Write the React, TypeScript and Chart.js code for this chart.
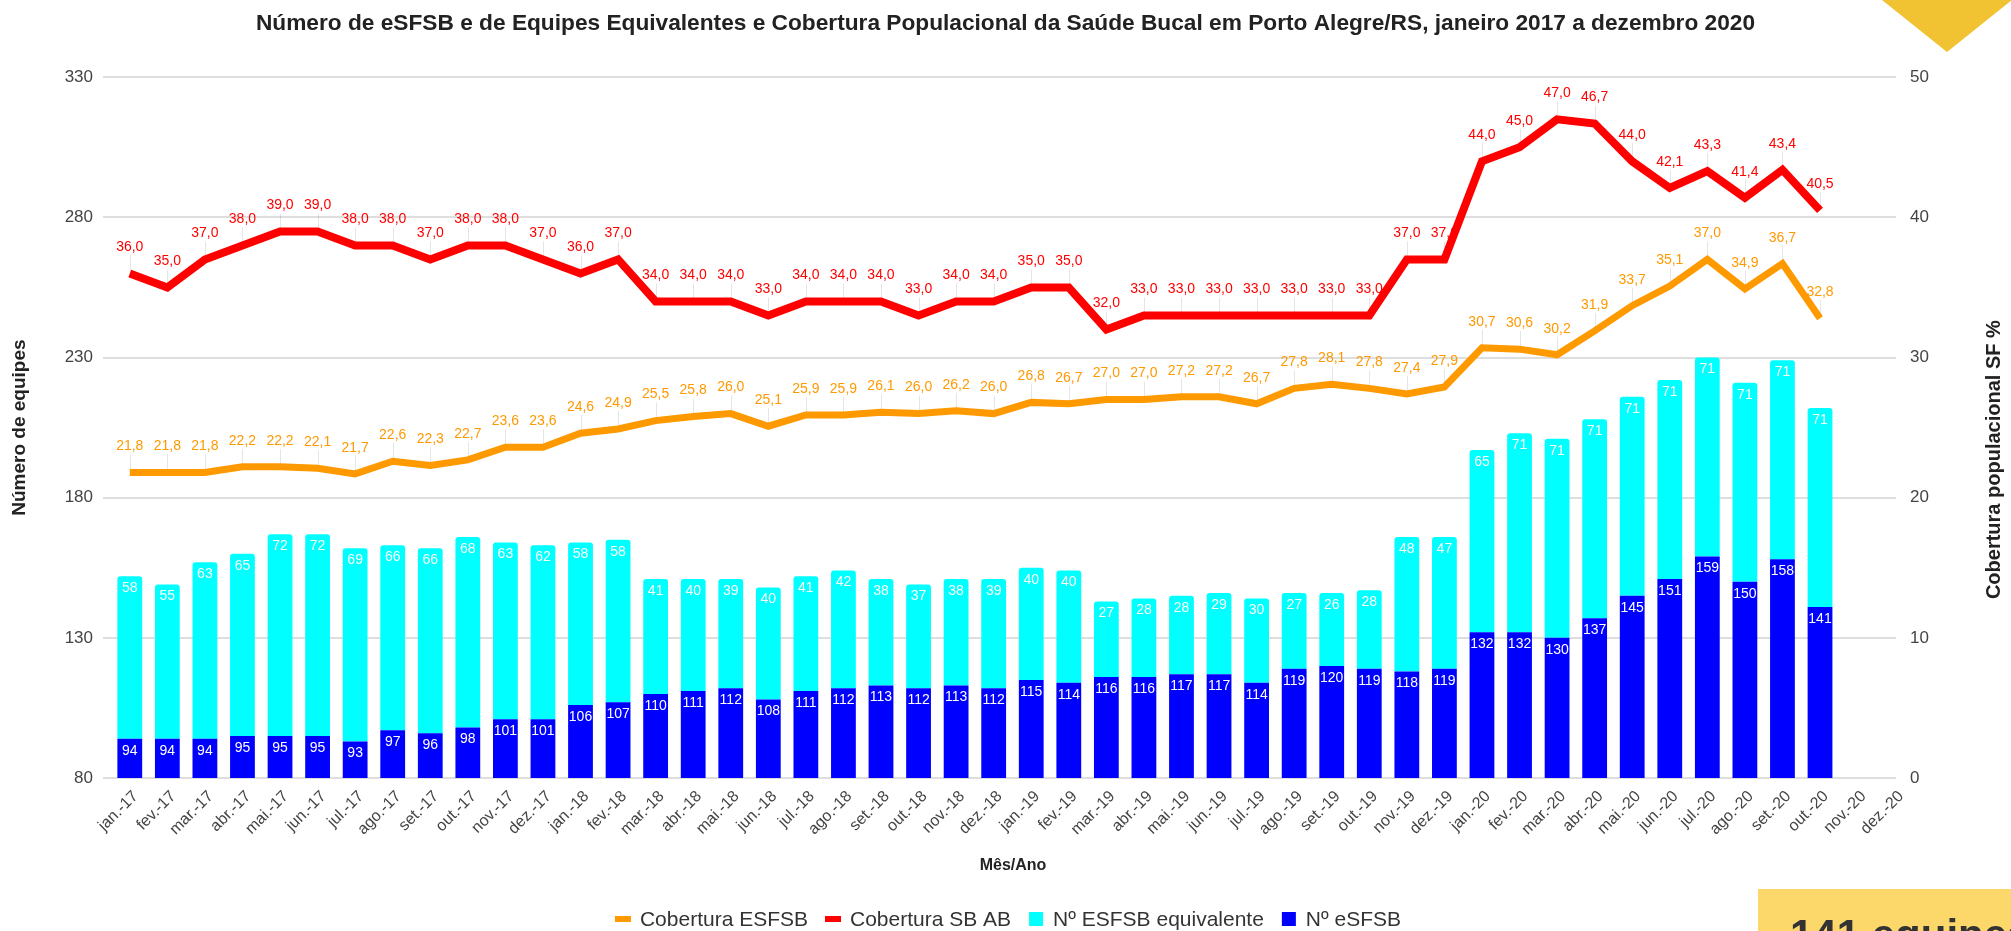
import React, { useEffect, useRef } from 'react';
import { Chart, registerables } from 'chart.js';

Chart.register(...registerables);

const TITLE =
  'Número de eSFSB e de Equipes Equivalentes e Cobertura Populacional da Saúde Bucal em Porto Alegre/RS, janeiro 2017 a dezembro 2020';

const months = [
  'jan.-17', 'fev.-17', 'mar.-17', 'abr.-17', 'mai.-17', 'jun.-17', 'jul.-17', 'ago.-17', 'set.-17', 'out.-17', 'nov.-17', 'dez.-17',
  'jan.-18', 'fev.-18', 'mar.-18', 'abr.-18', 'mai.-18', 'jun.-18', 'jul.-18', 'ago.-18', 'set.-18', 'out.-18', 'nov.-18', 'dez.-18',
  'jan.-19', 'fev.-19', 'mar.-19', 'abr.-19', 'mai.-19', 'jun.-19', 'jul.-19', 'ago.-19', 'set.-19', 'out.-19', 'nov.-19', 'dez.-19',
  'jan.-20', 'fev.-20', 'mar.-20', 'abr.-20', 'mai.-20', 'jun.-20', 'jul.-20', 'ago.-20', 'set.-20', 'out.-20', 'nov.-20', 'dez.-20',
];

// Nº eSFSB (blue, bottom of stack)
const nEsfsb: (number | null)[] = [
  94, 94, 94, 95, 95, 95, 93, 97, 96, 98, 101, 101,
  106, 107, 110, 111, 112, 108, 111, 112, 113, 112, 113, 112,
  115, 114, 116, 116, 117, 117, 114, 119, 120, 119, 118, 119,
  132, 132, 130, 137, 145, 151, 159, 150, 158, 141, null, null,
];

// Nº ESFSB equivalente (cyan, top of stack)
const nEquivalente: (number | null)[] = [
  58, 55, 63, 65, 72, 72, 69, 66, 66, 68, 63, 62,
  58, 58, 41, 40, 39, 40, 41, 42, 38, 37, 38, 39,
  40, 40, 27, 28, 28, 29, 30, 27, 26, 28, 48, 47,
  65, 71, 71, 71, 71, 71, 71, 71, 71, 71, null, null,
];

// Cobertura ESFSB (%)
const cobEsfsb: (number | null)[] = [
  21.8, 21.8, 21.8, 22.2, 22.2, 22.1, 21.7, 22.6, 22.3, 22.7, 23.6, 23.6,
  24.6, 24.9, 25.5, 25.8, 26.0, 25.1, 25.9, 25.9, 26.1, 26.0, 26.2, 26.0,
  26.8, 26.7, 27.0, 27.0, 27.2, 27.2, 26.7, 27.8, 28.1, 27.8, 27.4, 27.9,
  30.7, 30.6, 30.2, 31.9, 33.7, 35.1, 37.0, 34.9, 36.7, 32.8, null, null,
];

// Cobertura SB AB (%)
const cobSbAb: (number | null)[] = [
  36.0, 35.0, 37.0, 38.0, 39.0, 39.0, 38.0, 38.0, 37.0, 38.0, 38.0, 37.0,
  36.0, 37.0, 34.0, 34.0, 34.0, 33.0, 34.0, 34.0, 34.0, 33.0, 34.0, 34.0,
  35.0, 35.0, 32.0, 33.0, 33.0, 33.0, 33.0, 33.0, 33.0, 33.0, 37.0, 37.0,
  44.0, 45.0, 47.0, 46.7, 44.0, 42.1, 43.3, 41.4, 43.4, 40.5, null, null,
];

const leftAxisRange = [80, 330];
const leftAxisStep = 50;
const rightAxisRange = [0, 50];
const rightAxisStep = 10;
const xAxisTitle = 'Mês/Ano';
const rightAxisTitle = 'Cobertura populacional SF %';
const calloutText = '141 equipes';

const FAM = "'Liberation Sans', Arial, sans-serif";
const ORANGE = '#ff9900';
const RED = '#ff0000';
const CYAN = '#00ffff';
const BLUE = '#0000ff';

const fmt = (v: number) => v.toFixed(1).replace('.', ',');

const labelsPlugin = {
  id: 'customLabels',
  beforeDatasetsDraw(chart: any) {
    const ctx = chart.ctx;
    ctx.save();
    ctx.strokeStyle = 'rgba(0,0,0,0.10)';
    ctx.lineWidth = 1;
    [0, 1].forEach((di) => {
      const meta = chart.getDatasetMeta(di);
      meta.data.forEach((pt: any, i: number) => {
        const v = chart.data.datasets[di].data[i];
        if (v == null) return;
        const x = Math.round(pt.x) + 0.5;
        ctx.beginPath();
        ctx.moveTo(x, pt.y - 18);
        ctx.lineTo(x, pt.y);
        ctx.stroke();
      });
    });
    ctx.restore();
  },
  afterDatasetsDraw(chart: any) {
    const ctx = chart.ctx;
    ctx.save();
    ctx.textAlign = 'center';
    ctx.textBaseline = 'middle';
    ctx.font = `14px ${FAM}`;
    ctx.fillStyle = '#ffffff';
    [2, 3].forEach((di) => {
      const meta = chart.getDatasetMeta(di);
      meta.data.forEach((bar: any, i: number) => {
        const v = chart.data.datasets[di].data[i];
        if (v == null) return;
        ctx.fillText(String(v), bar.x, bar.y + 12);
      });
    });
    [0, 1].forEach((di) => {
      const meta = chart.getDatasetMeta(di);
      ctx.fillStyle = chart.data.datasets[di].borderColor;
      meta.data.forEach((pt: any, i: number) => {
        const v = chart.data.datasets[di].data[i];
        if (v == null) return;
        ctx.fillText(fmt(v), pt.x, pt.y - 26);
      });
    });
    ctx.restore();
  },
  afterDraw(chart: any) {
    const ctx = chart.ctx;
    const area = chart.chartArea;

    // x axis title
    ctx.save();
    ctx.font = `bold 16px ${FAM}`;
    ctx.fillStyle = '#222';
    ctx.textAlign = 'center';
    ctx.textBaseline = 'middle';
    ctx.fillText(xAxisTitle, 1013, 866);
    ctx.restore();

    // right axis title (reads bottom-to-top)
    ctx.save();
    ctx.translate(chart.width - 17, (area.top + area.bottom) / 2 + 32);
    ctx.rotate(-Math.PI / 2);
    ctx.font = `bold 20px ${FAM}`;
    ctx.fillStyle = '#222';
    ctx.textAlign = 'center';
    ctx.textBaseline = 'middle';
    ctx.fillText(rightAxisTitle, 0, 0);
    ctx.restore();

    // legend
    ctx.save();
    ctx.font = `21px ${FAM}`;
    ctx.textBaseline = 'middle';
    ctx.textAlign = 'left';
    const order = [0, 1, 3, 2];
    const markerW = 16;
    const gapIn = 9;
    const gapOut = 17;
    const widths = order.map((di) => ctx.measureText(chart.data.datasets[di].label).width);
    const total =
      widths.reduce((a: number, b: number) => a + b, 0) + order.length * (markerW + gapIn) + (order.length - 1) * gapOut;
    let x = 1008 - total / 2;
    const y = 919;
    order.forEach((di, k) => {
      const ds = chart.data.datasets[di];
      if (ds.type === 'line') {
        ctx.fillStyle = ds.borderColor;
        ctx.fillRect(x, y - 3, markerW, 6);
      } else {
        ctx.fillStyle = ds.backgroundColor;
        ctx.fillRect(x + 1, y - 7, 14, 14);
      }
      x += markerW + gapIn;
      ctx.fillStyle = '#333';
      ctx.fillText(ds.label, x, y + 1);
      x += widths[k] + gapOut;
    });
    ctx.restore();

    // decorations: yellow triangle and callout box
    ctx.save();
    ctx.fillStyle = '#f1c232';
    ctx.beginPath();
    ctx.moveTo(1882, 0);
    ctx.lineTo(2012, 0);
    ctx.lineTo(1947, 52);
    ctx.closePath();
    ctx.fill();
    ctx.fillStyle = '#fcd86b';
    ctx.fillRect(1758, 889, 253, 42);
    ctx.fillStyle = '#333';
    ctx.font = `bold 42px ${FAM}`;
    ctx.textBaseline = 'alphabetic';
    ctx.textAlign = 'left';
    ctx.fillText(calloutText, 1790, 949);
    ctx.restore();
  },
};

export default function App() {
  const ref = useRef<HTMLCanvasElement | null>(null);

  useEffect(() => {
    if (!ref.current) return;
    Chart.defaults.font.family = FAM;
    const chart = new Chart(ref.current, {
      type: 'bar',
      data: {
        labels: months,
        datasets: [
          {
            type: 'line',
            label: 'Cobertura ESFSB',
            data: cobEsfsb,
            yAxisID: 'y1',
            borderColor: ORANGE,
            backgroundColor: ORANGE,
            borderWidth: 7,
            pointRadius: 0,
            tension: 0,
          } as any,
          {
            type: 'line',
            label: 'Cobertura SB AB',
            data: cobSbAb,
            yAxisID: 'y1',
            borderColor: RED,
            backgroundColor: RED,
            borderWidth: 8,
            pointRadius: 0,
            tension: 0,
          } as any,
          {
            type: 'bar',
            label: 'Nº eSFSB',
            data: nEsfsb,
            yAxisID: 'y',
            backgroundColor: BLUE,
            borderRadius: 3,
            barPercentage: 0.66,
            categoryPercentage: 1,
          } as any,
          {
            type: 'bar',
            label: 'Nº ESFSB equivalente',
            data: nEquivalente,
            yAxisID: 'y',
            backgroundColor: CYAN,
            borderRadius: 3,
            barPercentage: 0.66,
            categoryPercentage: 1,
          } as any,
        ],
      },
      options: {
        responsive: false,
        animation: false,
        devicePixelRatio: 1,
        layout: { padding: 0 },
        plugins: {
          legend: { display: false },
          tooltip: { enabled: false },
          title: {
            display: true,
            text: TITLE,
            font: { size: 22.7, weight: 'bold', family: FAM },
            color: '#222',
            padding: { top: 10, bottom: 40 },
          },
        },
        scales: {
          x: {
            stacked: true,
            grid: { display: false, drawTicks: false },
            border: { display: false },
            ticks: {
              maxRotation: 45,
              minRotation: 45,
              autoSkip: false,
              padding: 9,
              labelOffset: 6,
              font: { size: 16 },
              color: '#444',
            },
            title: { display: false },
            afterFit: (s: any) => {
              s.height = 153;
            },
            afterBuildTicks: (s: any) => {
              // the last category sits on the right edge of the plot
              s._valueRange = 47.31;
            },
          },
          y: {
            position: 'left',
            stacked: true,
            min: leftAxisRange[0],
            max: leftAxisRange[1],
            ticks: { stepSize: leftAxisStep, padding: 10, font: { size: 17 }, color: '#444' },
            grid: { color: '#dedede', lineWidth: 2, tickLength: 8 },
            border: { display: false },
            title: {
              display: true,
              text: 'Número de equipes',
              font: { size: 19, weight: 'bold' },
              color: '#222',
              padding: { top: 8, bottom: 0 },
            },
            afterFit: (s: any) => {
              s.width = 111;
            },
          },
          y1: {
            position: 'right',
            min: rightAxisRange[0],
            max: rightAxisRange[1],
            ticks: { stepSize: rightAxisStep, padding: 14, font: { size: 17 }, color: '#444' },
            grid: { drawOnChartArea: false, color: '#dedede', lineWidth: 2, tickLength: 8 },
            border: { display: false },
            afterFit: (s: any) => {
              s.width = 123;
            },
          },
        },
      } as any,
      plugins: [labelsPlugin],
    });
    return () => chart.destroy();
  }, []);

  return (
    <div style={{ position: 'absolute', left: 0, top: 0, width: 2011, height: 931, background: '#fff' }}>
      <canvas ref={ref} width={2011} height={931} style={{ width: 2011, height: 931, display: 'block' }} />
    </div>
  );
}
